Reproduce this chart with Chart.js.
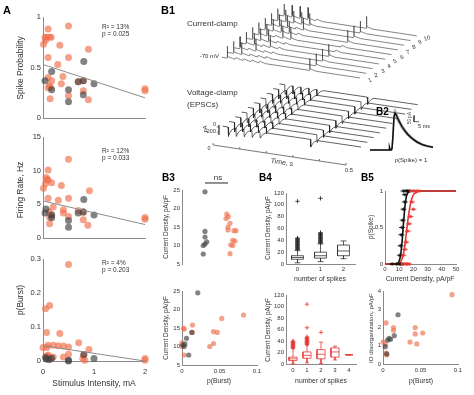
<!DOCTYPE html>
<html>
<head>
<meta charset="utf-8">
<script src="https://cdn.jsdelivr.net/npm/chart.js@4.4.1/dist/chart.umd.min.js"></script>
<style>
  html, body { margin:0; padding:0; background:#fff; }
  #wrap { position:relative; width:474px; height:395px; overflow:hidden;
          font-family:"Liberation Sans", Arial, sans-serif; color:#222; }
  #wrap canvas { position:absolute; left:0; top:0; }
  .t { position:absolute; white-space:nowrap; line-height:1; }
</style>
</head>
<body>
<div id="wrap"></div>
<script>
const FONT = '"Liberation Sans", Arial, sans-serif';
const W = 474, H = 395;
const AXIS_COLOR = '#8a8a8a';
const TEXT_COLOR = '#333';
const ORANGE = 'rgba(240,112,76,0.66)';
const GRAY = 'rgba(65,65,65,0.66)';
const wrap = document.getElementById('wrap');

// ---------- Panel A : stimulus intensity ----------
const stimTicks = [0, 1, 2];
const probTicks = [0, 0.5, 1];
const rateTicks = [0, 5, 10, 15];
const burstTicks = [0, 0.1, 0.2, 0.3];

const aOrangeStim1 = [0.10,0.04,0.07,0.13,0.16,0.01,0.05,0.50,0.33,0.89,0.10,0.50,0.29,0.39,0.10,0.17,0.13,0.36,0.10,0.15,0.69,0.79,0.79,0.14,0.50,0.89,2.0,2.0];
const aOrangeProb  = [0.88,0.80,0.80,0.80,0.80,0.73,0.77,0.91,0.72,0.68,0.60,0.60,0.53,0.41,0.40,0.37,0.32,0.34,0.30,0.30,0.36,0.37,0.27,0.19,0.22,0.18,0.29,0.27];
const aGrayStim1 = [0.80,0.04,0.17,0.17,0.50,0.50,0.69,0.79,1.00,0.79];
const aGrayProb  = [0.56,0.37,0.46,0.28,0.28,0.16,0.36,0.37,0.34,0.23];

const aOrangeStim2 = [0.50,0.10,0.06,0.08,0.10,0.05,0.01,0.17,0.36,0.91,0.10,0.50,0.30,0.20,0.40,0.40,0.12,0.17,0.13,0.69,0.79,0.79,0.13,0.88,0.50,2.0,2.0];
const aOrangeRate  = [11.7,10.1,9.0,8.7,8.6,8.1,7.4,8.2,7.8,7.0,5.9,5.9,5.6,4.6,4.2,3.7,3.9,3.4,3.1,4.1,3.8,2.7,2.1,1.9,3.2,3.05,2.8];
const aGrayStim2 = [0.80,0.06,0.04,0.17,0.17,0.50,0.50,0.69,0.79,1.00];
const aGrayRate  = [5.7,4.3,3.7,3.4,3.0,2.6,1.6,3.7,3.9,3.4];

const aOrangeStim3 = [0.50,0.13,0.05,0.07,0.33,0.00,0.07,0.10,0.20,0.30,0.40,0.50,0.70,0.90,0.10,0.06,0.12,0.08,0.15,0.20,0.40,0.80,0.78,0.82,2.0,2.0,0.50];
const aOrangeBurst = [0.284,0.163,0.154,0.084,0.081,0.040,0.040,0.046,0.046,0.045,0.044,0.041,0.054,0.034,0.018,0.012,0.010,0.015,0.008,0.012,0.012,0.017,0.007,0.002,0.007,0.002,0.020];
const aGrayStim3 = [0.05,0.07,0.17,0.50,0.50,0.80,1.00,0.12];
const aGrayBurst = [0.010,0.006,0.008,0.002,0.000,0.019,0.007,0.004];

const fitStim = [0, 2];
const fitProb = [0.53, 0.20];
const fitRate = [5.5, 2.0];
const fitBurst = [0.045, 0.0];

// ---------- B1 : waterfall sweeps ----------
const stimTimes = [0, 0.03, 0.06, 0.09, 0.12, 0.31];   // s
const traceStart = -0.02, traceEnd = 0.5;
const traceShiftT = 0.0237;                            // s per sweep (depth)
const ccRest = -70, ccShiftMv = 39, ccTiltMv = 333;
const vcShiftPa = 188, vcTiltPa = 1600;
const epspT = [0, 0.002, 0.006, 0.012, 0.02, 0.026];
const epspV = [0, 10, 14, 9, 4, 1];
const spikeT = [0, 0.001, 0.0015, 0.0025, 0.006, 0.012, 0.02, 0.026];
const spikeV = [0, 12, 100, 15, 12, 8, 4, 1];
const epscT = [0, 0.001, 0.003, 0.008, 0.015, 0.022, 0.026];
const epscI = [0, -380, -330, -200, -90, -30, -8];
const epscScale = [1, 0.85, 0.75, 0.7, 0.65, 0.8];
const ccSpikes = [
  [1,0,0,0,0,1],
  [1,1,0,0,0,1],
  [1,0,1,0,0,1],
  [1,1,0,1,0,1],
  [1,1,1,0,0,0],
  [1,1,0,1,1,0],
  [1,1,1,1,0,1],
  [1,1,1,0,1,1],
  [1,1,1,1,1,1],
  [1,1,1,1,0,1]
];
const timeAxisTicks = [0, 0.1, 0.2, 0.3, 0.4, 0.5];
const pAxisTicks = [0, -200];

// ---------- B2 : average EPSC ----------
const b2Time  = [-22,-10,-4,-3,-2.5,-2,-1,0,1,2,3,4,5,6,8,10,13,16,20,25,30,35,41];
const b2Mean  = [0,0,0,0,20,5,0,10,120,270,300,290,270,250,220,190,155,125,95,65,45,32,22];
const b2Upper = [4,4,4,4,26,11,4,25,170,310,335,320,298,276,242,210,173,140,107,75,53,38,27];
const b2Lower = [-4,-4,-4,-4,14,-1,-4,-5,70,230,265,260,242,224,198,170,137,110,83,55,37,26,17];
const b2BarT = [22, 22, 27];
const b2BarI = [280, 230, 230];

// ---------- B3 ----------
const densityTicks = [5, 10, 15, 20, 25];
const pBurstTicks = [0, 0.05, 0.1];
const b3GrayGroup   = [0.92,0.92,0.92,0.99,0.92,0.85,0.85];
const b3GrayDensity = [24.5,13.8,12.3,11.0,10.4,10.0,7.7];
const b3OrangeGroup   = [1.79,1.85,1.76,1.92,1.84,1.84,2.08,2.16,2.03,2.12,1.95,2.03,1.92];
const b3OrangeDensity = [18.5,17.8,17.3,16.0,15.0,14.2,14.0,14.0,11.4,11.2,10.2,10.0,7.8];
const nsBarX = [0.92, 1.84], nsBarY = 26.9;

const b3bOrangeBurst   = [0.002,0.003,0.014,0.014,0.042,0.047,0.053,0.082,0.042,0.037,0.000,0.000,0.003];
const b3bOrangeDensity = [14.9,14.7,15.8,13.8,14.0,13.8,17.6,18.5,10.8,10.0,11.0,10.0,7.7];
const b3bGrayBurst   = [0.021,0.006,0.013,0.004,0.009,0.001,0.003];
const b3bGrayDensity = [24.5,12.2,13.8,10.7,7.7,10.4,10.0];

// ---------- B4 : boxplots ----------
const densityTicks120 = [0, 20, 40, 60, 80, 100, 120];
const spikesTop = [0, 1, 2];
const topQ1 = [8, 10, 14], topMed = [11, 14, 22], topQ3 = [14, 20, 32];
const topLo = [2, 4, 9], topHi = [23, 34, 39];
const topOutliers = [
  [24,25,26,27,28,29,30,31,32,33,34,35,36,37,38,39,40,41,42,43,44,106],
  [35,36,37,38,39,40,41,42,43,44,45,46,47,48,49,50,51,52,53,111],
  []
];
const spikesBot = [0, 1, 2, 3, 4];
const botQ1 = [6, 10, 9, 12, 16], botMed = [9, 15, 17, 21, 16], botQ3 = [12, 21, 25, 28, 16];
const botLo = [0, 2, 1, 7, 16], botHi = [27, 33, 38, 31, 16];
const botOutliers = [
  [28,29,30,31,32,33,34,35,36,37,38,39,40],
  [34,35,36,37,38,39,40,41,42,43,44,45,46,47,63,104],
  [55],
  [],
  []
];

// ---------- B5 ----------
const cdTicks = [0, 10, 20, 30, 40, 50];
const ioTicks = [0, 1, 2, 3, 4];
const blackFitX = [0,8,9,10,11,12,13,14,15,16,17,18,20,50];
const blackFitY = [0,0,0.01,0.04,0.12,0.3,0.55,0.78,0.92,0.97,0.99,1,1,1];
const redFitX = [0,8,10,11,12,13,14,15,16,17,18,19,20,22,25,28,50];
const redFitY = [0,0,0.01,0.03,0.07,0.14,0.26,0.42,0.58,0.72,0.83,0.9,0.95,0.98,1,1,1];
const b5BlackCD = [5,8,10,11,12,10.5,11,11.5,12,12.5,13,14,13,15,16,17,14];
const b5BlackP  = [0,0,0,0,0,0.12,0.25,0.4,0.5,0.6,0.75,0.85,1,1,1,1,0.95];
const b5RedCD = [12,14,15,16,17,13,14,15,16,17,18,20,19,18,20,22,24];
const b5RedP  = [0,0,0,0,0,0.12,0.2,0.3,0.45,0.55,0.65,0.75,0.85,1,1,1,1];

const b5bOrangeBurst = [0.092,0.004,0.014,0.014,0.043,0.043,0.053,0.036,0.045,0.000,0.003,0.004,0.005];
const b5bOrangeIO    = [3.8,2.25,2.0,1.85,2.0,1.65,1.7,1.2,1.1,1.2,1.05,0.6,0.5];
const b5bGrayBurst = [0.020,0.015,0.010,0.006,0.003,0.005,0.008];
const b5bGrayIO    = [2.7,1.55,1.35,1.3,0.95,0.55,1.4];

// ---------- helpers ----------
const pts = (xs, ys) => xs.map((x, i) => ({ x, y: ys[i] }));
const GAP = { x: null, y: null };

function dots(xs, ys, color, r) {
  return { data: pts(xs, ys), backgroundColor: color, borderWidth: 0, pointRadius: r, clip: false };
}
function line(data, color, w, extra) {
  return Object.assign({ data, showLine: true, borderColor: color, borderWidth: w,
    pointRadius: 0, clip: false, tension: 0, fill: false }, extra || {});
}

function axis(o) {
  return {
    type: 'linear',
    display: o.display !== false,
    min: o.min, max: o.max,
    grid: { display: false, drawTicks: false },
    border: { display: o.border !== false, color: AXIS_COLOR, width: 1 },
    ticks: {
      display: o.labels !== false && !!o.ticks,
      color: TEXT_COLOR, padding: o.pad == null ? 2 : o.pad,
      font: { family: FONT, size: o.font || 6 },
      maxRotation: 0, autoSkip: false,
      callback: v => String(v)
    },
    afterBuildTicks: s => { s.ticks = (o.ticks || []).map(v => ({ value: v })); },
    afterFit: s => {
      if (o.size == null) return;
      if (s.isHorizontal()) s.height = o.size; else s.width = o.size;
    }
  };
}

// box = [left, top, right, bottom] of the plot area on the page
function chart(box, xo, yo, datasets) {
  const c = document.createElement('canvas');
  c.width = W; c.height = H;
  wrap.appendChild(c);
  const xs = xo.size || 0, ys = yo.size || 0;
  return new Chart(c, {
    type: 'scatter',
    data: { datasets },
    options: {
      responsive: false, animation: false, events: [], devicePixelRatio: 1,
      layout: { padding: { left: box[0] - ys, top: box[1], right: W - box[2], bottom: H - box[3] - xs } },
      plugins: { legend: { display: false }, tooltip: { enabled: false } },
      scales: { x: axis(xo), y: axis(yo) }
    }
  });
}

function boxSegments(cats, q1, med, q3, lo, hi, hw) {
  const out = [];
  cats.forEach((c, i) => {
    out.push({x:c-hw,y:q1[i]},{x:c+hw,y:q1[i]},{x:c+hw,y:q3[i]},{x:c-hw,y:q3[i]},{x:c-hw,y:q1[i]}, GAP);
    out.push({x:c-hw,y:med[i]},{x:c+hw,y:med[i]}, GAP);
    out.push({x:c,y:q3[i]},{x:c,y:hi[i]}, GAP, {x:c,y:q1[i]},{x:c,y:lo[i]}, GAP);
    out.push({x:c-hw/2,y:hi[i]},{x:c+hw/2,y:hi[i]}, GAP, {x:c-hw/2,y:lo[i]},{x:c+hw/2,y:lo[i]}, GAP);
  });
  return out;
}
function outlierPts(cats, lists) {
  const out = [];
  cats.forEach((c, i) => lists[i].forEach(v => out.push({ x: c, y: v })));
  return out;
}

function sweep(i, shapeFor, base, shift, tilt) {
  const raw = [{ t: traceStart, v: base }];
  stimTimes.forEach((s, k) => {
    const [ts, vs, g] = shapeFor(i, k);
    ts.forEach((dt, j) => raw.push({ t: s + dt, v: base + vs[j] * g }));
  });
  raw.push({ t: traceEnd, v: base });
  return raw.map(p => ({ x: p.t + i * traceShiftT, y: p.v + i * shift - tilt * p.t }));
}

// ---------- Panel A ----------
chart([43, 17, 145, 118],
  { min: 0, max: 2, ticks: stimTicks, labels: false },
  { min: 0, max: 1, ticks: probTicks, size: 16, font: 7.5 },
  [ line(pts(fitStim, fitProb), '#8c8c8c', 1),
    dots(aGrayStim1, aGrayProb, GRAY, 3.5),
    dots(aOrangeStim1, aOrangeProb, ORANGE, 3.5) ]);

chart([43, 137, 145, 238],
  { min: 0, max: 2, ticks: stimTicks, labels: false },
  { min: 0, max: 15, ticks: rateTicks, size: 16, font: 7.5 },
  [ line(pts(fitStim, fitRate), '#8c8c8c', 1),
    dots(aGrayStim2, aGrayRate, GRAY, 3.5),
    dots(aOrangeStim2, aOrangeRate, ORANGE, 3.5) ]);

chart([43, 259, 145, 361],
  { min: 0, max: 2, ticks: stimTicks, size: 16, pad: 6, font: 7.5 },
  { min: 0, max: 0.3, ticks: burstTicks, size: 16, font: 7.5 },
  [ line(pts(fitStim, fitBurst), '#8c8c8c', 1),
    dots(aGrayStim3, aGrayBurst, GRAY, 3.5),
    dots(aOrangeStim3, aOrangeBurst, ORANGE, 3.5) ]);

// ---------- B1 current clamp ----------
const ccSets = [];
for (let i = 9; i >= 0; i--) {
  ccSets.push(line(sweep(i, (s, k) => ccSpikes[s][k] ? [spikeT, spikeV, 1] : [epspT, epspV, 1],
    ccRest, ccShiftMv, ccTiltMv), '#333', 0.6));
}
chart([200.4, 2, 426.5, 88],
  { display: false, min: -0.1, max: 0.75 },
  { display: false, min: -320, max: 396.7 },
  ccSets);

// ---------- B1 voltage clamp ----------
const vcSets = [];
for (let i = 9; i >= 0; i--) {
  vcSets.push(line(sweep(i, (s, k) => [epscT, epscI, epscScale[k]], 0, vcShiftPa, vcTiltPa), '#1e1e1e', 0.7));
}
const pAxis = [{ x: -0.034, y: 80 }, { x: -0.034, y: -320 }, GAP];
pAxisTicks.forEach(v => pAxis.push({ x: -0.034, y: v }, { x: -0.042, y: v }, GAP));
const floorAxis = timeAxisTicks.map(t => ({ x: -0.056 + t, y: -720 - vcTiltPa * t }));
floorAxis.push(GAP);
timeAxisTicks.forEach(t => floorAxis.push({ x: -0.056 + t, y: -720 - vcTiltPa * t },
                                          { x: -0.056 + t, y: -640 - vcTiltPa * t }, GAP));
vcSets.push(line(pAxis, '#555', 0.8), line(floorAxis, '#555', 0.8));
chart([201.4, 80, 427.5, 170],
  { display: false, min: -0.1, max: 0.75 },
  { display: false, min: -1720, max: 1880 },
  vcSets);

// ---------- B2 ----------
chart([370, 104, 436, 154],
  { display: false, min: -22, max: 44 },
  { display: false, min: -32.5, max: 374 },
  [ line(pts(b2Time, b2Mean), '#111', 1.6),
    line(pts(b2BarT, b2BarI), '#333', 0.8),
    line(pts(b2Time, b2Upper), 'rgba(140,140,140,0.9)', 0.6, { fill: '+1', backgroundColor: 'rgba(165,165,165,0.6)' }),
    line(pts(b2Time, b2Lower), 'rgba(140,140,140,0.9)', 0.6) ]);

// ---------- B3 ----------
chart([182, 190, 257, 264],
  { display: false, min: 0, max: 3 },
  { min: 5, max: 25, ticks: densityTicks, size: 12 },
  [ line(pts(nsBarX, [nsBarY, nsBarY]), '#222', 1),
    dots(b3GrayGroup, b3GrayDensity, GRAY, 2.6),
    dots(b3OrangeGroup, b3OrangeDensity, ORANGE, 2.6) ]);

chart([182, 291, 257, 365],
  { min: 0, max: 0.1, ticks: pBurstTicks, size: 11, pad: 3 },
  { min: 5, max: 25, ticks: densityTicks, size: 12 },
  [ dots(b3bGrayBurst, b3bGrayDensity, GRAY, 2.6),
    dots(b3bOrangeBurst, b3bOrangeDensity, ORANGE, 2.6) ]);

// ---------- B4 ----------
chart([286, 193, 355, 264],
  { min: -0.5, max: 2.5, ticks: spikesTop, size: 10, pad: 2 },
  { min: 0, max: 120, ticks: densityTicks120, size: 14 },
  [ line(boxSegments(spikesTop, topQ1, topMed, topQ3, topLo, topHi, 0.26), '#333', 0.8),
    { data: outlierPts(spikesTop, topOutliers), pointStyle: 'cross', pointRadius: 2.2,
      borderColor: '#222', borderWidth: 0.8, clip: false } ]);

chart([286, 295, 356, 364],
  { min: -0.5, max: 4.5, ticks: spikesBot, size: 11, pad: 3 },
  { min: 0, max: 120, ticks: densityTicks120, size: 14 },
  [ line(boxSegments(spikesBot, botQ1, botMed, botQ3, botLo, botHi, 0.29), '#e53935', 0.8),
    { data: outlierPts(spikesBot, botOutliers), pointStyle: 'cross', pointRadius: 2.2,
      borderColor: '#e53935', borderWidth: 0.8, clip: false } ]);

// ---------- B5 ----------
chart([385, 191, 456, 264],
  { min: 0, max: 50, ticks: cdTicks, size: 10, pad: 2 },
  { min: 0, max: 1, ticks: [0, 0.5, 1], size: 12 },
  [ { data: pts(b5RedCD, b5RedP), pointStyle: 'star', pointRadius: 1.8, borderColor: '#e53935', borderWidth: 0.8, clip: false },
    { data: pts(b5BlackCD, b5BlackP), pointStyle: 'star', pointRadius: 1.8, borderColor: '#111', borderWidth: 0.8, clip: false },
    { data: pts(b5RedCD, b5RedP), pointStyle: 'line', pointRadius: 3, borderColor: '#e53935', borderWidth: 0.8, clip: false },
    { data: pts(b5BlackCD, b5BlackP), pointStyle: 'line', pointRadius: 3, borderColor: '#111', borderWidth: 0.8, clip: false },
    line(pts(redFitX, redFitY), '#e53935', 1.6, { cubicInterpolationMode: 'monotone' }),
    line(pts(blackFitX, blackFitY), '#111', 1.6, { cubicInterpolationMode: 'monotone' }) ]);

chart([383, 291, 458, 364],
  { min: 0, max: 0.1, ticks: pBurstTicks, size: 11, pad: 3 },
  { min: 0, max: 4, ticks: ioTicks, size: 12 },
  [ dots(b5bGrayBurst, b5bGrayIO, GRAY, 2.6),
    dots(b5bOrangeBurst, b5bOrangeIO, ORANGE, 2.6) ]);

// ---------- text ----------
function label(text, x, y, size, opts = {}) {
  const d = document.createElement('div');
  d.className = 't';
  d.textContent = text;
  d.style.left = x + 'px';
  d.style.top = y + 'px';
  d.style.fontSize = size + 'px';
  d.style.color = opts.color || TEXT_COLOR;
  if (opts.bold) { d.style.fontWeight = 'bold'; d.style.color = '#000'; }
  const ax = opts.align === 'left' ? '0' : opts.align === 'right' ? '-100%' : '-50%';
  d.style.transform = `translate(${ax}, -50%)` + (opts.rot ? ` rotate(${opts.rot}deg)` : '');
  wrap.appendChild(d);
}

label('A', 3, 10, 11, { bold: true, align: 'left' });
label('B1', 161, 10, 11, { bold: true, align: 'left' });
label('B2', 376, 112, 10, { bold: true, align: 'left' });
label('B3', 162, 178, 10, { bold: true, align: 'left' });
label('B4', 259, 178, 10, { bold: true, align: 'left' });
label('B5', 361, 178, 10, { bold: true, align: 'left' });

label('R\u00b2 = 13%', 102, 27, 6.5, { align: 'left' });
label('p = 0.025', 102, 34, 6.5, { align: 'left' });
label('R\u00b2 = 12%', 102, 151, 6.5, { align: 'left' });
label('p = 0.033', 102, 158, 6.5, { align: 'left' });
label('R\u00b2 = 4%', 102, 263, 6.5, { align: 'left' });
label('p = 0.203', 102, 270, 6.5, { align: 'left' });

label('Spike Probability', 20, 68, 8.5, { rot: -90 });
label('Firing Rate, Hz', 20, 190, 8.5, { rot: -90 });
label('p(Burst)', 20, 300, 8.5, { rot: -90 });
label('Stimulus Intensity, mA', 94, 383, 8.5);

label('Current-clamp', 187, 24, 8, { align: 'left' });
label('-70 mV', 219, 56, 6, { align: 'right' });
for (let i = 0; i < 10; i++) label(String(i + 1), 370 + 6.3 * i, 80 - 4.7 * i, 6, { rot: -20 });
label('Voltage-clamp', 187, 93, 8, { align: 'left' });
label('(EPSCs)', 187, 105, 8, { align: 'left' });
label('pA', 206, 129, 5.5, { rot: -90 });
label('0', 216, 125, 5.5, { align: 'right' });
label('-200', 216, 132, 5.5, { align: 'right' });
label('0', 209, 149, 5.5);
label('0.5', 349, 170, 6);
label('Time, s', 282, 162, 7, { rot: 9 });

label('50 pA', 410, 118, 4.5, { rot: -90 });
label('5 ms', 424, 127, 5.5);
label('p(Spike) = 1', 411, 160, 6);

label('ns', 218, 178, 8);
label('Current Density, pA/pF', 166, 227, 6.3, { rot: -90 });
label('Current Density, pA/pF', 166, 328, 6.3, { rot: -90 });
label('p(Burst)', 219, 381, 6.8);

label('Current Density, pA/pF', 268, 228, 6.3, { rot: -90 });
label('Current Density, pA/pF', 268, 330, 6.3, { rot: -90 });
label('number of spikes', 320, 279, 6.8);
label('number of spikes', 321, 381, 6.8);

label('p(Spike)', 371, 227, 6.5, { rot: -90 });
label('Current Density, pA/pF', 420, 279, 6.8);
label('IO disorganization, pA/pF', 371, 328, 6.2, { rot: -90 });
label('p(Burst)', 421, 381, 6.8);
</script>
</body>
</html>
